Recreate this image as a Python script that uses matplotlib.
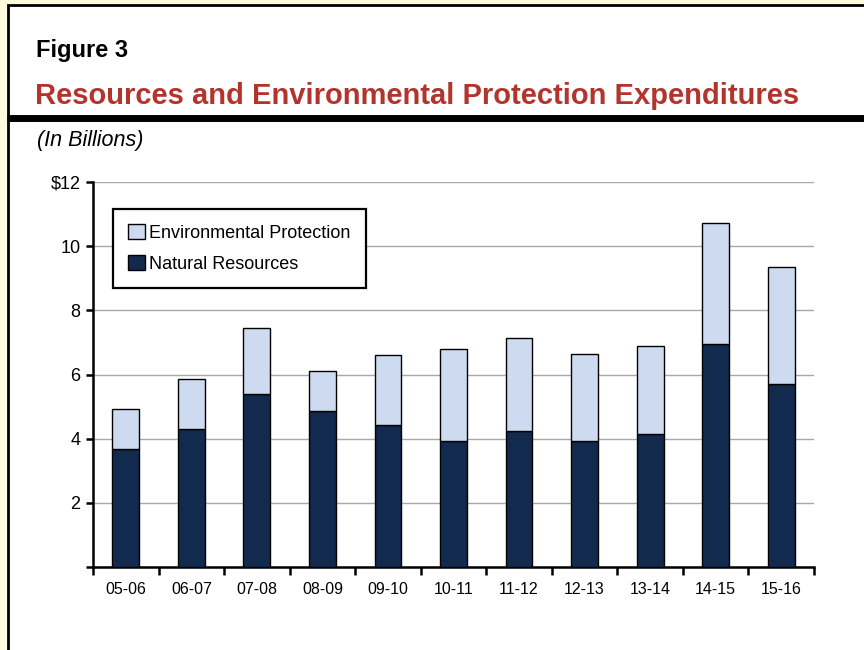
import matplotlib.pyplot as plt
from matplotlib.patches import Rectangle
from matplotlib.lines import Line2D
import numpy as np

plt.rcParams['font.family'] = ['Liberation Sans', 'DejaVu Sans']

# fiscal years and spending (billions of dollars)
years = ['05-06', '06-07', '07-08', '08-09', '09-10', '10-11',
         '11-12', '12-13', '13-14', '14-15', '15-16']
natural_resources = [3.67, 4.31, 5.39, 4.87, 4.43, 3.93, 4.24, 3.94, 4.14, 6.96, 5.70]
total = [4.92, 5.87, 7.46, 6.11, 6.60, 6.80, 7.13, 6.64, 6.90, 10.73, 9.35]
environmental_protection = [t - n for t, n in zip(total, natural_resources)]

yticks = [0, 2, 4, 6, 8, 10, 12]
ytick_labels = ['', '2', '4', '6', '8', '10', '$12']

navy = '#132a4f'
light_blue = '#cddaf0'
red = '#b3342c'
cream = '#fffbdc'

W, H = 864, 650
fig = plt.figure(figsize=(W / 100, H / 100), dpi=100, facecolor=cream)

# white page with black frame, running off the right and bottom edges
fig.patches.append(Rectangle((8 / W, -0.1), 1.2, 1.1 - 5 / H, transform=fig.transFigure,
                             facecolor='white', edgecolor='black', linewidth=2.0,
                             zorder=-5))
# heavy rule under the title
fig.lines.append(Line2D([7 / W, 1.0], [1 - 118 / H] * 2, transform=fig.transFigure,
                        color='black', linewidth=5.0, solid_capstyle='butt'))

def fig_text(x, y, s, **kw):
    fig.text(x / W, 1 - y / H, s, va='baseline', ha='left', **kw)

fig_text(36, 57, 'Figure 3', fontsize=17, fontweight='bold', color='black')
fig_text(35, 104, 'Resources and Environmental Protection Expenditures',
         fontsize=21, fontweight='bold', color=red)
fig_text(37, 146, '(In Billions)', fontsize=15.5, fontstyle='italic', color='black')

ax = fig.add_axes([93 / W, (H - 567) / H, (814 - 93) / W, (567 - 182) / H])
ax.set_facecolor('none')

x = np.arange(len(years))
ax.bar(x, natural_resources, width=0.41, color=navy, edgecolor='black',
       linewidth=1.0, label='Natural Resources', zorder=3)
ax.bar(x, environmental_protection, width=0.41, bottom=natural_resources,
       color=light_blue, edgecolor='black', linewidth=1.0,
       label='Environmental Protection', zorder=3)

ax.set_xlim(-0.5, len(years) - 0.5)
ax.set_ylim(0, 12)
ax.set_yticks(yticks)
ax.set_yticklabels(ytick_labels)
ax.set_xticks(x)
ax.set_xticklabels(years)
ax.set_xticks(np.arange(-0.5, len(years)), minor=True)
ax.tick_params(axis='x', which='major', length=0, pad=11, labelsize=11.5)
ax.tick_params(axis='x', which='minor', length=6, width=1.8, direction='out')
ax.tick_params(axis='y', length=5, width=1.8, pad=4, labelsize=13)

ax.yaxis.grid(True, color='#a8a8a8', linewidth=1.0, zorder=0)
ax.set_axisbelow(True)
for side in ['top', 'right']:
    ax.spines[side].set_visible(False)
for side in ['left', 'bottom']:
    ax.spines[side].set_linewidth(1.8)

handles, labels = ax.get_legend_handles_labels()
leg = ax.legend(handles[::-1], labels[::-1], loc='upper left',
                bbox_to_anchor=((113 - 93) / (814 - 93), (567 - 209) / (567 - 182)),
                fontsize=13, frameon=True, fancybox=False, edgecolor='black',
                framealpha=1, handlelength=0.9, handleheight=0.85, handletextpad=0.25,
                borderpad=0.85, labelspacing=0.75, borderaxespad=0)
leg.get_frame().set_linewidth(1.6)

fig.savefig('out.png', dpi=100, facecolor=cream)
